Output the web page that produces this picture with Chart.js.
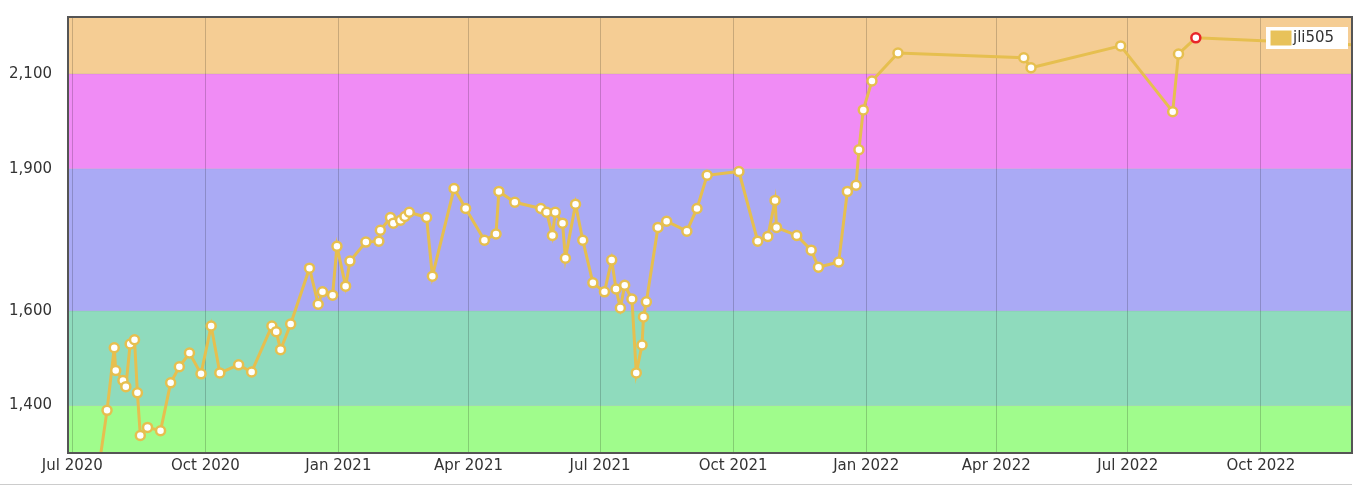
<!DOCTYPE html>
<html><head><meta charset="utf-8">
<script src="https://cdn.jsdelivr.net/npm/chart.js@4/dist/chart.umd.min.js"></script>
<style>html,body{margin:0;padding:0;background:#fff}#wrap{width:1370px;height:488px}</style>
</head><body><div id="wrap"><canvas id="c"></canvas></div>
<script>
// days since 2020-07-01
const days=[19,24,29,30,35,37,40,43,45,47,52,61,68,74,81,89,96,102,115,124,138,141,144,151,164,170,173,180,183,189,192,203,212,213,220,222,227,230,233,245,249,264,272,285,293,295,306,324,328,332,334,339,341,348,353,360,368,373,376,379,382,387,390,394,395,397,405,411,425,432,439,461,474,481,486,487,501,511,516,530,536,542,544,547,553,571,658,663,725,761,765,777,889];
const ratings=[1284,1390,1522,1474,1453,1440,1530,1539,1427,1337,1354,1347,1448,1482,1511,1467,1568,1469,1486,1471,1568,1556,1518,1572,1690,1614,1640,1633,1736,1652,1705,1745,1747,1770,1797,1785,1791,1799,1808,1797,1673,1858,1816,1749,1762,1852,1829,1816,1808,1759,1808,1785,1711,1825,1749,1659,1640,1707,1646,1606,1654,1625,1469,1528,1587,1619,1776,1789,1768,1816,1886,1894,1747,1757,1833,1776,1759,1728,1692,1703,1852,1865,1940,2024,2085,2144,2134,2113,2159,2020,2142,2176,2161];
const tickDays=[0,92,184,274,365,457,549,639,730,822];
const tickLabels=['Jul 2020','Oct 2020','Jan 2021','Apr 2021','Jul 2021','Oct 2021','Jan 2022','Apr 2022','Jul 2022','Oct 2022'];
const yTicks=[1400,1600,1900,2100];
const bands=[[1000,1400,'#a0fc8c'],[1400,1600,'#8fdbbd'],[1600,1900,'#aaaaf5'],[1900,2100,'#f08cf5'],[2100,3000,'#f5cd94']];
const maxIdx=ratings.indexOf(Math.max(...ratings));
const pts=days.map((d,i)=>({x:d,y:ratings[i]}));
const bg={id:'bg',beforeDraw(ch){const {ctx,chartArea:a,scales:{y}}=ch;ctx.save();
 bands.forEach(([lo,hi,c])=>{let t=Math.max(a.top,y.getPixelForValue(hi)),b=Math.min(a.bottom,y.getPixelForValue(lo));if(b>t){ctx.fillStyle=c;ctx.fillRect(a.left,t,a.right-a.left,b-t);}});
 ctx.strokeStyle='rgba(0,0,0,0.08)';ctx.lineWidth=1;
 bands.forEach(([lo])=>{let p=y.getPixelForValue(lo);if(p>a.top&&p<a.bottom){ctx.beginPath();ctx.moveTo(a.left,p);ctx.lineTo(a.right,p);ctx.stroke();}});
 ctx.restore();},
 afterDraw(ch){const {ctx,chartArea:a}=ch;ctx.save();ctx.strokeStyle='#555';ctx.lineWidth=2;ctx.strokeRect(a.left,a.top,a.right-a.left,a.bottom-a.top);
 ctx.strokeStyle='#ccc';ctx.lineWidth=1;ctx.beginPath();ctx.moveTo(0,484.5);ctx.lineTo(1352,484.5);ctx.stroke();
 ctx.fillStyle='#fff';ctx.fillRect(1266,27,82,22);ctx.fillStyle='#e8c25a';ctx.fillRect(1270,30,22,16);ctx.strokeStyle='#fff';ctx.strokeRect(1270,30,22,16);
 ctx.fillStyle='#333';ctx.font='15px "DejaVu Sans"';ctx.textBaseline='middle';ctx.fillText('jli505',1293,38);ctx.restore();}};
new Chart(document.getElementById('c'),{type:'line',
 data:{datasets:[{data:pts,borderColor:'#e6bf4f',borderWidth:3,pointRadius:4.5,pointBorderWidth:2.5,pointBackgroundColor:'#fff',
  pointBorderColor:ratings.map((r,i)=>i===maxIdx?'#e8262a':'#e6bf4f'),tension:0,clip:0}]},
 options:{responsive:true,maintainAspectRatio:false,animation:false,
  layout:{padding:{top:15,right:18,left:0,bottom:0}},
  plugins:{legend:{display:false},tooltip:{enabled:false}},
  scales:{
   x:{type:'linear',min:-3,max:885,afterBuildTicks(s){s.ticks=tickDays.map(v=>({value:v}));},
    afterFit(s){s.height=35;},
    ticks:{autoSkip:false,maxRotation:0,color:'#333',font:{family:'DejaVu Sans',size:15},padding:4,callback:(v)=>tickLabels[tickDays.indexOf(v)]},
    grid:{color:'rgba(0,0,0,0.18)',drawTicks:false},border:{display:false}},
   y:{min:1300,max:2220,afterBuildTicks(s){s.ticks=yTicks.map(v=>({value:v}));},
    afterFit(s){s.width=68;},
    ticks:{color:'#333',font:{family:'DejaVu Sans',size:15},padding:8},
    grid:{display:false},border:{display:false}}
  }},plugins:[bg]});
</script></body></html>
